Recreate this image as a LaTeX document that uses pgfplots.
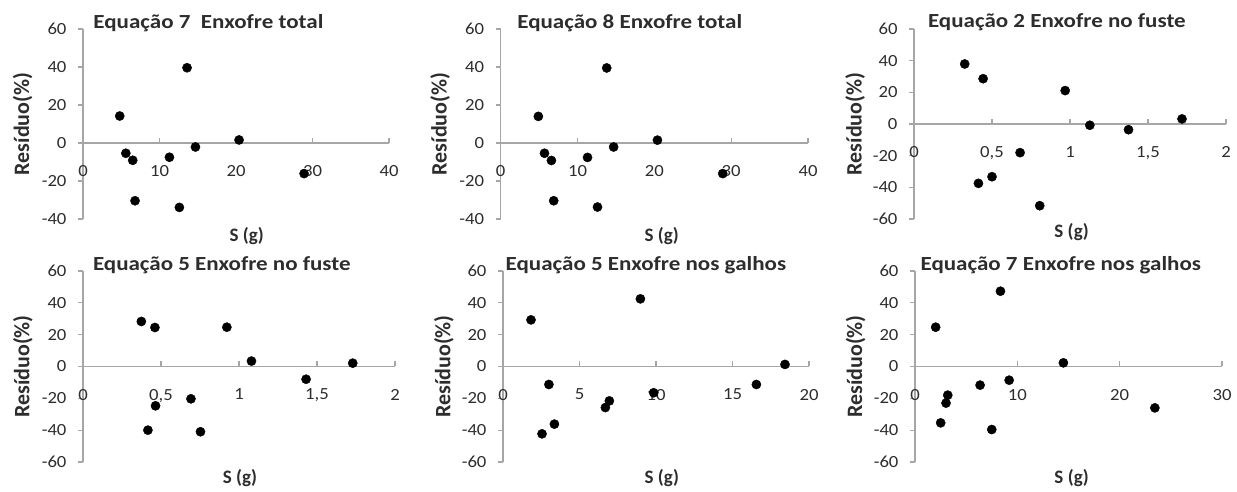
\documentclass[border=0pt]{standalone}
\usepackage{fontspec}
\setmainfont{Carlito}
\newfontfamily\tickfont{Carlito}[FakeStretch=1.1]
\newfontfamily\titlefont{Carlito}[FakeStretch=1.15]
\usepackage{pgfplots}
\pgfplotsset{compat=1.18}

\definecolor{axgray}{RGB}{166,166,166}
\definecolor{txt}{RGB}{45,45,45}

\tikzset{zerolab/.style={font=\tickfont\fontsize{17}{19}\selectfont, text=txt, anchor=north, yshift=-19pt}}

\pgfplotsset{
  resid/.style={
    scale only axis,
    axis x line=middle, axis y line=left,
    axis line style={axgray, line width=1.3pt, -},
    every inner x axis line/.append style={-},
    every outer y axis line/.append style={-},
    xtick align=inside, ytick align=outside,
    major tick length=5pt,
    tick style={axgray, line width=1.2pt},
    /pgf/number format/assume math mode=true,
    tick label style={font=\tickfont\fontsize{17}{19}\selectfont, text=txt},
    xticklabel style={anchor=north, yshift=-19pt},
    yticklabel style={anchor=east, xshift=-8pt},
    every axis title/.style={font=\titlefont\fontsize{20}{22}\selectfont\bfseries, text=txt, anchor=base},
    every axis x label/.style={font=\fontsize{19}{21}\selectfont\bfseries, text=txt, anchor=base},
    every axis y label/.style={font=\fontsize{22}{24}\selectfont\bfseries, text=txt, anchor=base, rotate=90},
    xlabel={S (g)}, ylabel={Resíduo(\%)},
    clip=false,
  },
  dots/.style={only marks, mark=*, mark size=4.6pt, black, mark options={fill=black}},
}

\begin{document}
\begin{tikzpicture}
\path (0pt,0pt) rectangle (1237pt,492pt);

% Equação 7 Enxofre total
\begin{axis}[resid, at={(83pt,273pt)}, anchor=south west, width=306pt, height=190pt,
  xmin=0, xmax=40, ymin=-40, ymax=60, xtick={0,10,20,30,40}, ytick={-40,-20,0,20,40,60},
  title={Equação 7\ \ Enxofre total}, title style={at={(axis description cs:0.41,1.005)}},
  xlabel style={at={(axis description cs:0.535,-0.116)}},
  ylabel style={at={(axis description cs:-0.176,0.5)}}]
\addplot[dots] coordinates {(4.8,14.2)(5.6,-5.4)(6.5,-9.1)(6.8,-30.4)(11.3,-7.5)(12.6,-33.9)(13.6,39.6)(14.7,-2.1)(20.4,1.6)(28.9,-16.1)};
\node[zerolab] at (axis cs:0,0) {0};
\end{axis}

% Equação 8 Enxofre total
\begin{axis}[resid, at={(500.7pt,273pt)}, anchor=south west, width=307.3pt, height=190pt,
  xmin=0, xmax=40, ymin=-40, ymax=60, xtick={0,10,20,30,40}, ytick={-40,-20,0,20,40,60},
  title={Equação 8 Enxofre total}, title style={at={(axis description cs:0.42,1.005)}},
  xlabel style={at={(axis description cs:0.524,-0.116)}},
  ylabel style={at={(axis description cs:-0.176,0.5)}}]
\addplot[dots] coordinates {(4.9,14.0)(5.7,-5.4)(6.6,-9.2)(6.9,-30.4)(11.3,-7.6)(12.6,-33.7)(13.8,39.5)(14.7,-2.1)(20.4,1.5)(28.9,-16.1)};
\node[zerolab] at (axis cs:0,0) {0};
\end{axis}

% Equação 2 Enxofre no fuste
\begin{axis}[resid, at={(914pt,273pt)}, anchor=south west, width=312pt, height=190pt,
  xmin=0, xmax=2, ymin=-60, ymax=60, xtick={0,0.5,1,1.5,2}, xticklabels={0,{0,5},1,{1,5},2},
  ytick={-60,-40,-20,0,20,40,60},
  title={Equação 2 Enxofre no fuste}, title style={at={(axis description cs:0.458,1.01)}},
  xlabel style={at={(axis description cs:0.505,-0.1)}},
  ylabel style={at={(axis description cs:-0.168,0.5)}}]
\addplot[dots] coordinates {(0.325,37.9)(0.443,28.6)(0.413,-37.5)(0.50,-33.3)(0.68,-18.1)(0.806,-51.6)(0.969,21.1)(1.127,-0.8)(1.375,-3.6)(1.718,3.2)};
\node[zerolab] at (axis cs:0,0) {0};
\end{axis}

% Equação 5 Enxofre no fuste
\begin{axis}[resid, at={(83pt,30pt)}, anchor=south west, width=312pt, height=191pt,
  xmin=0, xmax=2, ymin=-60, ymax=60, xtick={0,0.5,1,1.5,2}, xticklabels={0,{0,5},1,{1,5},2},
  ytick={-60,-40,-20,0,20,40,60},
  title={Equação 5 Enxofre no fuste}, title style={at={(axis description cs:0.445,1.0)}},
  xlabel style={at={(axis description cs:0.503,-0.11)}},
  ylabel style={at={(axis description cs:-0.172,0.5)}}]
\addplot[dots] coordinates {(0.374,28.3)(0.461,24.5)(0.416,-40.0)(0.465,-24.7)(0.692,-20.3)(0.753,-41.0)(0.922,24.7)(1.08,3.4)(1.43,-8.0)(1.729,2.1)};
\node[zerolab] at (axis cs:0,0) {0};
\end{axis}

% Equação 5 Enxofre nos galhos
\begin{axis}[resid, at={(503pt,30pt)}, anchor=south west, width=306pt, height=191pt,
  xmin=0, xmax=20, ymin=-60, ymax=60, xtick={0,5,10,15,20},
  ytick={-60,-40,-20,0,20,40,60},
  title={Equação 5 Enxofre nos galhos}, title style={at={(axis description cs:0.467,1.0)}},
  xlabel style={at={(axis description cs:0.519,-0.11)}},
  ylabel style={at={(axis description cs:-0.172,0.5)}}]
\addplot[dots] coordinates {(1.83,29.3)(8.98,42.5)(3.0,-11.3)(2.55,-42.3)(3.36,-36.2)(6.69,-25.8)(6.95,-21.6)(9.85,-16.5)(16.56,-11.3)(18.43,1.3)};
\node[zerolab] at (axis cs:0,0) {0};
\end{axis}

% Equação 7 Enxofre nos galhos
\begin{axis}[resid, at={(915pt,30pt)}, anchor=south west, width=307pt, height=191pt,
  xmin=0, xmax=30, ymin=-60, ymax=60, xtick={0,10,20,30},
  ytick={-60,-40,-20,0,20,40,60},
  title={Equação 7 Enxofre nos galhos}, title style={at={(axis description cs:0.475,1.0)}},
  xlabel style={at={(axis description cs:0.51,-0.11)}},
  ylabel style={at={(axis description cs:-0.172,0.5)}}]
\addplot[dots] coordinates {(2.02,24.7)(8.35,47.3)(2.51,-35.4)(3.03,-23.0)(3.2,-18.0)(6.36,-11.7)(7.5,-39.6)(9.2,-8.6)(14.5,2.3)(23.44,-26.0)};
\node[zerolab] at (axis cs:0,0) {0};
\end{axis}
\end{tikzpicture}
\end{document}
